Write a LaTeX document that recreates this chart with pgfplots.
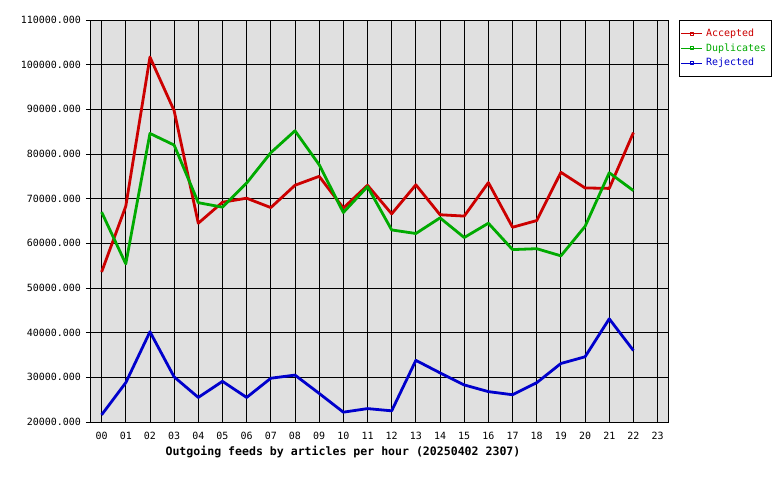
\documentclass[border=0pt]{standalone}
\usepackage{pgfplots}
\pgfplotsset{compat=1.18}
\usepackage{fontspec}
\setmainfont{DejaVu Sans Mono}
\definecolor{cred}{RGB}{204,0,0}
\definecolor{cgreen}{RGB}{0,170,0}
\definecolor{cblue}{RGB}{0,0,204}
\definecolor{bgray}{RGB}{224,224,224}
\pgfplotsset{
  myleg/.style={legend image code/.code={
    \draw[line width=1bp, draw=#1] (0bp,0bp) -- (21bp,0bp);
    \draw[line width=0.7bp, draw=#1] (8.5bp,-1.5bp) rectangle (11.5bp,1.5bp);
  }}
}
\begin{document}
\begin{tikzpicture}
\useasboundingbox (0,0) rectangle (780bp,480bp);
\begin{axis}[
  at={(90bp,58bp)}, anchor=south west,
  scale only axis, width=578bp, height=402bp,
  xmin=-0.48, xmax=23.43, ymin=20000, ymax=110000,
  xtick={0,...,23},
  xticklabels={00,01,02,03,04,05,06,07,08,09,10,11,12,13,14,15,16,17,18,19,20,21,22,23},
  ytick={20000,30000,...,110000},
  yticklabels={20000.000,30000.000,40000.000,50000.000,60000.000,70000.000,80000.000,90000.000,100000.000,110000.000},
  tick pos=left, tick align=outside, major tick length=4bp,
  tick style={black, line width=0.75bp},
  xtick style={draw=none},
  grid=major, major grid style={black, line width=0.9bp},
  axis line style={black, line width=0.9bp},
  axis background/.style={fill=bgray},
  ticklabel style={font=\fontsize{10}{11}\selectfont},
  yticklabel style={inner sep=2bp, xshift=-3bp},
  xticklabel style={yshift=-2.7bp},
  scaled y ticks=false,
  legend style={at={(1,1)}, anchor=north west, xshift=10.5bp,
    draw=black, line width=0.9bp, font=\fontsize{10}{11}\selectfont,
    inner xsep=2bp, inner ysep=5.5bp, row sep=0bp,
    nodes={text height=7.5bp, text depth=2bp, inner ysep=2.7bp, inner xsep=3.2bp}},
  legend cell align=left,
]
\addplot[cred, line width=2.8bp, line join=round, myleg=cred] coordinates {
(0,53580) (1,68300) (2,101700) (3,89700) (4,64500) (5,69200) (6,70100) (7,68000)
(8,73000) (9,75000) (10,67900) (11,73000) (12,66600) (13,73100) (14,66400) (15,66100)
(16,73600) (17,63600) (18,65100) (19,75900) (20,72400) (21,72300) (22,84800)};
\addlegendentry{\textcolor{cred}{Accepted}}
\addplot[cgreen, line width=2.8bp, line join=round, myleg=cgreen] coordinates {
(0,67000) (1,55400) (2,84600) (3,82000) (4,69100) (5,68100) (6,73500) (7,80300)
(8,85200) (9,77600) (10,66900) (11,72700) (12,63000) (13,62200) (14,65700) (15,61300)
(16,64500) (17,58600) (18,58800) (19,57200) (20,63800) (21,75800) (22,71800)};
\addlegendentry{\textcolor{cgreen}{Duplicates}}
\addplot[cblue, line width=2.8bp, line join=round, myleg=cblue] coordinates {
(0,21600) (1,28800) (2,40200) (3,30100) (4,25500) (5,29100) (6,25500) (7,29800)
(8,30500) (9,26400) (10,22200) (11,23000) (12,22500) (13,33800) (14,31000) (15,28300)
(16,26800) (17,26100) (18,28800) (19,33100) (20,34600) (21,43100) (22,36000)};
\addlegendentry{\textcolor{cblue}{Rejected}}
\end{axis}
\node[font=\bfseries\fontsize{11.6}{12}\selectfont] at (343bp,28bp) {Outgoing feeds by articles per hour (20250402 2307)};
\end{tikzpicture}
\end{document}
